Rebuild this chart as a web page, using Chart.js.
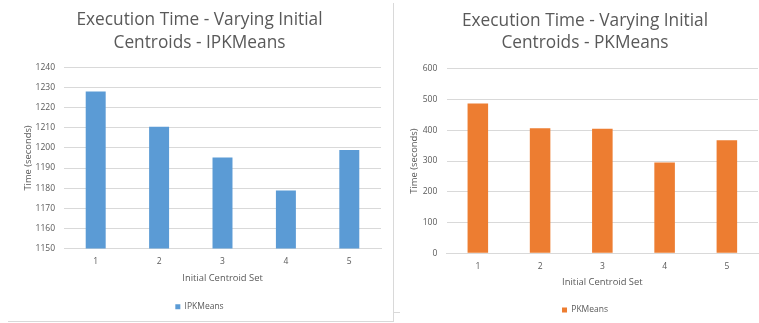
<!DOCTYPE html>
<html>
<head>
<meta charset="utf-8">
<script src="https://cdn.jsdelivr.net/npm/chart.js@4"></script>
<style>
    html, body { margin: 0; padding: 0; background: #fff; overflow: hidden; }
    body { width: 759px; height: 323px; position: relative; }
    #leftFrame {
        position: absolute; left: 8px; top: 3px; width: 385px; height: 318px;
        border-right: 1px solid #d9d9d9; border-bottom: 1px solid #d9d9d9;
    }
    #rightStub {
        position: absolute; left: 393px; top: 312px; width: 7px; height: 1px;
        background: #d9d9d9;
    }
    #ipkChart { position: absolute; left: 0; top: 0; }
    #pkChart { position: absolute; left: 394px; top: 0; }
</style>
</head>
<body>
<div id="leftFrame"></div>
<div id="rightStub"></div>
<canvas id="ipkChart" width="392" height="321"></canvas>
<canvas id="pkChart" width="365" height="326"></canvas>
<script>
// Execution time (seconds) per initial centroid set
const centroidSets = ['1', '2', '3', '4', '5'];
const ipkmeansTimes = [1228, 1210.5, 1195.3, 1178.8, 1199];
const pkmeansTimes = [487, 407, 405, 295, 368];

// Axis ranges: min, max, step
const ipkRange = [1150, 1240, 10];
const pkRange = [0, 600, 100];

const textColor = '#595959';
const gridColor = '#d9d9d9';

Chart.defaults.font.family = "'Open Sans', sans-serif";
Chart.defaults.color = textColor;

function buildChart(canvasId, opts) {
    const ctx = document.getElementById(canvasId);
    return new Chart(ctx, {
        type: 'bar',
        data: {
            labels: centroidSets,
            datasets: [{
                label: opts.name,
                data: opts.values,
                backgroundColor: opts.color,
                categoryPercentage: 1,
                barPercentage: opts.barPct
            }]
        },
        options: {
            responsive: false,
            devicePixelRatio: 1,
            animation: false,
            layout: {
                padding: { left: opts.padL, right: opts.padR, top: 0, bottom: opts.padB }
            },
            plugins: {
                tooltip: { enabled: false },
                title: {
                    display: true,
                    text: ['Execution Time - Varying Initial', 'Centroids - ' + opts.name],
                    color: textColor,
                    font: { size: 17.3, weight: 'normal', lineHeight: 1.306 },
                    padding: { top: opts.titleTop, bottom: opts.titleBottom }
                },
                legend: {
                    position: 'bottom',
                    labels: {
                        boxWidth: 5,
                        boxHeight: 5,
                        padding: opts.legendPad,
                        color: textColor,
                        font: { size: 8.5 }
                    }
                }
            },
            scales: {
                x: {
                    grid: { display: false, drawTicks: false },
                    border: { display: true, color: gridColor },
                    ticks: { padding: opts.xTickPad, font: { size: 8.5 }, color: textColor },
                    title: {
                        display: true,
                        text: 'Initial Centroid Set',
                        color: textColor,
                        font: { size: 9.4 },
                        padding: { top: 0, bottom: 5 }
                    },
                    afterFit: function(scale) { scale.height = 40; }
                },
                y: {
                    min: opts.range[0],
                    max: opts.range[1],
                    grid: { color: gridColor, drawTicks: false },
                    border: { display: false },
                    ticks: {
                        stepSize: opts.range[2],
                        padding: opts.yTickPad,
                        font: { size: 8.5 },
                        color: textColor,
                        callback: function(value) { return String(value); }
                    },
                    title: {
                        display: true,
                        text: 'Time (seconds)',
                        color: textColor,
                        font: { size: 9.4 },
                        padding: { top: opts.yTitlePad, bottom: 0 }
                    },
                    afterFit: function(scale) { scale.width = opts.yWidth; }
                }
            }
        }
    });
}

buildChart('ipkChart', {
    name: 'IPKMeans',
    values: ipkmeansTimes,
    color: '#5b9bd5',
    range: ipkRange,
    barPct: 0.315,
    padL: 18, padR: 11, padB: 0,
    titleTop: 8.7, titleBottom: 13.6,
    legendPad: 14,
    xTickPad: 8,
    yTickPad: 9,
    yTitlePad: 4.7,
    yWidth: 46
});

buildChart('pkChart', {
    name: 'PKMeans',
    values: pkmeansTimes,
    color: '#ed7d31',
    range: pkRange,
    barPct: 0.33,
    padL: 18, padR: 1, padB: 1.75,
    titleTop: 9.4, titleBottom: 14.2,
    legendPad: 12.45,
    xTickPad: 8,
    yTickPad: 9.4,
    yTitlePad: -3.35,
    yWidth: 34.7
});
</script>
</body>
</html>
